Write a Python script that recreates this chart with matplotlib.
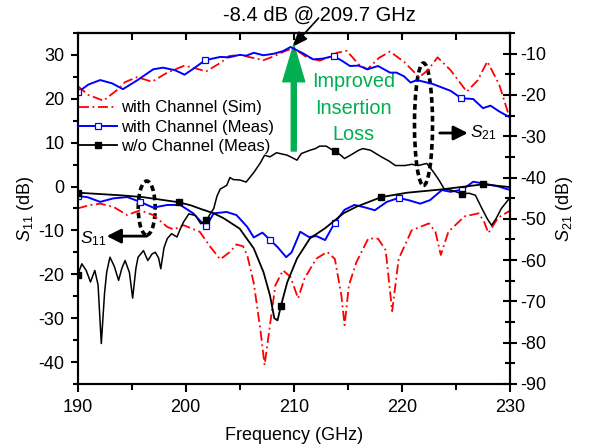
import matplotlib
matplotlib.use("Agg")
import matplotlib.pyplot as plt
from matplotlib.lines import Line2D
from matplotlib.patches import Ellipse
from matplotlib.ticker import MultipleLocator
import numpy as np

plt.rcParams['font.family'] = ['Liberation Sans', 'DejaVu Sans']
plt.rcParams['mathtext.fontset'] = 'custom'
plt.rcParams['mathtext.rm'] = 'Liberation Sans'
plt.rcParams['mathtext.it'] = 'Liberation Sans:italic'
plt.rcParams['axes.unicode_minus'] = False

# --- S21, avec canal (simulation) ---
s21_sim_f = [190.0, 191.0, 192.4, 193.8, 194.4, 195.5, 196.9, 198.3, 199.9, 200.8, 201.9,
             203.3, 204.0, 205.0, 206.0, 207.2, 208.3, 209.0, 209.8, 210.5, 211.2, 212.4,
             213.2, 214.0, 214.9, 216.0, 216.8, 217.9, 218.9, 220.2, 221.6, 222.4, 223.3,
             224.5, 226.0, 227.0, 227.9, 229.0, 229.9]
s21_sim_db = [-17.8, -20.0, -21.4, -18.5, -16.9, -15.7, -16.8, -14.6, -12.9, -13.5, -14.3,
              -12.1, -10.6, -10.3, -10.9, -11.6, -10.5, -9.6, -8.8, -9.6, -10.9, -11.7,
              -10.9, -9.8, -9.3, -12.6, -13.8, -11.0, -9.5, -12.0, -15.7, -14.0, -10.9,
              -14.0, -19.2, -16.5, -11.9, -17.5, -25.0]

# --- S21, avec canal (mesure) ---
s21_meas_f = [190.0, 191.0, 192.1, 193.2, 194.2, 195.5, 197.0, 197.9, 199.0, 199.9, 200.8,
              201.8, 203.2, 204.0, 205.0, 205.6, 206.3, 207.2, 208.2, 209.0, 209.7, 210.3,
              210.9, 211.8, 212.7, 213.7, 214.5, 215.2, 216.0, 216.8, 217.8, 218.9, 219.5,
              220.2, 220.8, 221.4, 222.0, 222.8, 223.5, 224.5, 225.5, 226.6, 227.0, 227.5,
              228.2, 229.0, 229.9]
s21_meas_db = [-19.4, -17.5, -16.4, -17.2, -18.6, -16.5, -13.8, -13.4, -14.0, -15.1, -13.5,
               -11.6, -10.8, -10.9, -10.3, -10.5, -9.8, -10.4, -10.0, -9.4, -8.4, -9.2,
               -10.0, -11.4, -11.2, -10.6, -11.8, -13.0, -12.9, -13.8, -13.0, -14.6, -14.6,
               -15.5, -17.0, -16.4, -16.8, -17.3, -18.0, -19.0, -20.8, -21.0, -22.0, -23.2,
               -22.6, -24.0, -25.3]
s21_meas_mk = [190.0, 201.8, 213.7, 225.5]

# --- S21, sans canal (mesure) ---
s21_wo_f = [190.0, 190.4, 190.8, 191.2, 191.6, 191.9, 192.2, 192.5, 192.7, 193.0, 193.4,
            193.8, 194.1, 194.4, 194.8, 195.1, 195.4, 195.6, 196.1, 196.5, 196.9, 197.2,
            197.5, 197.7, 198.0, 198.3, 198.7, 199.2, 199.5, 199.8, 200.3, 200.9, 201.4,
            201.9, 202.6, 202.9, 203.2, 203.8, 204.1, 204.4, 205.0, 205.6, 206.3, 206.9,
            207.3, 207.8, 208.4, 208.9, 209.4, 210.3, 210.7, 211.5, 212.0, 212.4, 213.0,
            213.8, 214.3, 214.7, 215.5, 216.0, 216.4, 217.1, 217.6, 218.1, 218.8, 219.4,
            220.3, 220.9, 221.5, 222.3, 222.9, 223.4, 223.9, 224.6, 225.6, 226.2, 226.8,
            227.4, 227.9, 228.3, 228.7, 229.2, 229.9]
s21_wo_db = [-63.7, -60.9, -62.5, -65.3, -62.5, -66.0, -80.2, -68.0, -62.9, -59.3, -61.5,
             -64.9, -62.0, -60.1, -63.0, -69.2, -62.0, -59.3, -57.7, -60.1, -58.5, -58.1,
             -59.5, -62.1, -57.0, -54.8, -53.6, -54.4, -52.5, -50.8, -48.8, -49.2, -51.2,
             -50.4, -47.5, -44.5, -42.8, -41.9, -40.0, -40.5, -40.6, -41.1, -38.8, -36.5,
             -34.6, -35.0, -34.0, -34.3, -34.6, -35.8, -34.2, -33.4, -33.0, -32.4, -32.4,
             -33.7, -34.5, -35.4, -34.2, -33.4, -33.0, -33.4, -34.2, -35.0, -36.0, -37.1,
             -37.1, -36.8, -37.1, -36.6, -38.6, -40.5, -42.7, -43.1, -44.0, -43.8, -44.3,
             -47.5, -50.0, -51.6, -50.0, -47.5, -45.2]
s21_wo_mk = [190.0, 201.9, 213.8, 225.6]

# --- S11, avec canal (simulation) ---
s11_sim_f = [190.0, 191.0, 192.1, 193.3, 194.6, 195.8, 197.0, 198.3, 198.9, 199.8, 201.3,
             202.3, 203.2, 204.1, 204.7, 205.3, 205.7, 206.3, 206.9, 207.3, 207.8, 208.3,
             209.0, 209.7, 210.4, 211.0, 212.1, 213.1, 213.8, 214.4, 214.7, 215.1, 215.8,
             216.9, 217.8, 218.5, 219.1, 219.7, 220.9, 222.5, 223.1, 223.6, 224.3, 225.8,
             227.1, 227.6, 228.0, 228.9, 230.0]
s11_sim_db = [-5.0, -4.3, -3.9, -4.6, -6.5, -5.4, -6.5, -9.2, -9.8, -8.8, -10.3,
              -13.8, -16.6, -14.9, -13.2, -13.6, -15.7, -22.0, -32.4, -40.7, -31.6, -22.5,
              -19.1, -20.6, -25.5, -20.9, -16.4, -14.9, -16.5, -24.8, -31.6, -22.5, -17.2,
              -11.8, -11.9, -14.5, -28.4, -16.5, -10.0, -8.4, -10.3, -15.6, -10.3, -6.8,
              -6.1, -8.0, -10.6, -7.1, -5.5]

# --- S11, avec canal (mesure) ---
s11_meas_f = [190.0, 190.9, 192.1, 193.3, 194.6, 195.8, 197.0, 198.3, 199.5, 200.7, 201.3,
              201.9, 202.6, 203.8, 204.7, 205.7, 206.3, 207.1, 207.7, 208.5, 209.3, 209.8,
              210.6, 211.4, 212.1, 212.9, 213.8, 214.7, 215.6, 216.5, 217.5, 218.6, 219.7,
              220.6, 221.7, 222.6, 223.7, 224.5, 225.6, 226.6, 227.5, 228.8, 229.9]
s11_meas_db = [-2.2, -2.4, -3.5, -2.7, -2.4, -3.5, -4.8, -4.2, -4.2, -6.1, -7.7,
               -9.0, -6.1, -5.8, -6.5, -9.2, -11.6, -10.5, -11.9, -13.8, -16.1, -15.0,
               -10.3, -11.5, -11.3, -12.2, -8.2, -5.3, -4.2, -4.7, -5.4, -3.5, -2.6,
               -3.1, -3.9, -3.1, -0.8, -1.2, -0.7, 1.1, 0.7, 0.1, -0.7]
s11_meas_mk = [190.0, 195.8, 201.9, 207.8, 213.8, 219.7, 225.6]

# --- S11, sans canal (mesure) ---
s11_wo_f = [190.0, 192.0, 194.0, 196.0, 198.0, 199.4, 200.5, 201.5, 202.5, 203.5, 205.0,
            206.3, 207.2, 207.8, 208.2, 208.5, 208.8, 209.4, 210.3, 211.5, 212.9, 214.6,
            215.8, 218.1, 220.5, 223.5, 227.5, 229.9]
s11_wo_db = [-1.4, -1.7, -2.0, -2.4, -3.1, -3.6, -4.3, -5.2, -6.0, -7.2, -9.6,
             -14.1, -19.5, -24.8, -30.0, -30.5, -27.3, -21.8, -16.4, -11.8, -9.5, -6.1,
             -4.6, -2.4, -1.4, -0.7, 0.5, -0.1]
s11_wo_mk = [190.0, 199.4, 208.8, 218.1, 227.5]

labels = ['with Channel (Sim)', 'with Channel (Meas)', 'w/o Channel (Meas)']

RED, BLUE, BLACK, GREEN = '#ff0000', '#0000ff', '#000000', '#00b050'
dashdot = (0, (5.5, 2.0, 1.0, 2.0))

fig = plt.figure(figsize=(5.89, 4.48), dpi=100)
ax = fig.add_axes([0.1316, 0.1429, 0.7343, 0.7835])
ax2 = ax.twinx()

# courbes S11 (axe gauche)
ax.plot(s11_sim_f, s11_sim_db, color=RED, ls=dashdot, lw=1.3)
ax.plot(s11_meas_f, s11_meas_db, color=BLUE, lw=1.4)
ax.plot(s11_meas_mk, np.interp(s11_meas_mk, s11_meas_f, s11_meas_db), 's', ls='none',
        ms=4.5, mfc='white', mec=BLUE, mew=0.9)
ax.plot(s11_wo_f, s11_wo_db, color=BLACK, lw=1.3)
ax.plot(s11_wo_mk, np.interp(s11_wo_mk, s11_wo_f, s11_wo_db), 's', ls='none',
        ms=4.5, color=BLACK)

# courbes S21 (axe droit)
ax2.plot(s21_sim_f, s21_sim_db, color=RED, ls=dashdot, lw=1.3)
ax2.plot(s21_meas_f, s21_meas_db, color=BLUE, lw=1.4)
ax2.plot(s21_meas_mk, np.interp(s21_meas_mk, s21_meas_f, s21_meas_db), 's', ls='none',
         ms=4.5, mfc='white', mec=BLUE, mew=0.9)
ax2.plot(s21_wo_f, s21_wo_db, color=BLACK, lw=1.1)
ax2.plot(s21_wo_mk, np.interp(s21_wo_mk, s21_wo_f, s21_wo_db), 's', ls='none',
         ms=4.5, color=BLACK)

ax.set_xlim(190, 230)
ax.set_ylim(-45, 35)
ax2.set_ylim(-90, -5)

ax.xaxis.set_major_locator(MultipleLocator(10))
ax.xaxis.set_minor_locator(MultipleLocator(5))
ax.yaxis.set_major_locator(MultipleLocator(10))
ax.yaxis.set_minor_locator(MultipleLocator(5))
ax2.yaxis.set_major_locator(MultipleLocator(10))
ax2.yaxis.set_minor_locator(MultipleLocator(5))

for a in (ax, ax2):
    for s in a.spines.values():
        s.set_linewidth(1.5)

ax.tick_params(axis='x', which='major', direction='out', length=6, width=1.5, pad=5, labelsize=13)
ax.tick_params(axis='x', which='minor', direction='out', length=4, width=1.5)
ax.tick_params(axis='y', which='major', direction='out', length=5, width=1.5, pad=4.5, labelsize=13)
ax.tick_params(axis='y', which='minor', direction='out', length=3.5, width=1.5)
ax2.tick_params(axis='y', which='major', direction='inout', length=10, width=1.5, pad=2.6, labelsize=13)
ax2.tick_params(axis='y', which='minor', direction='inout', length=7, width=1.5)

top = ax.secondary_xaxis('top')
top.xaxis.set_major_locator(MultipleLocator(5))
top.tick_params(direction='in', length=5, width=1.5, labeltop=False)
top.spines['top'].set_linewidth(1.5)

ax.set_xlabel('Frequency (GHz)', fontsize=13, labelpad=8)
ax.set_ylabel(r'$\mathit{S}_{\mathit{11}}$ (dB)', fontsize=13, labelpad=1.5)
ax2.set_ylabel(r'$\mathit{S}_{\mathit{21}}$ (dB)', fontsize=13, labelpad=5)

handles = [Line2D([], [], color=RED, ls=dashdot, lw=1.3),
           Line2D([], [], color=BLUE, lw=1.4, marker='s', ms=4.5, mfc='white', mec=BLUE, mew=0.9),
           Line2D([], [], color=BLACK, lw=1.3, marker='s', ms=4.5)]
ax2.legend(handles, labels, loc='upper left', bbox_to_anchor=(0.0035, 0.808), frameon=False,
           fontsize=12, handlelength=2.28, handletextpad=0.24, labelspacing=0.26,
           borderaxespad=0, borderpad=0)

# annotations
fig.text(319.7 / 589, 1 - 20.3 / 448, '-8.4 dB @ 209.7 GHz', fontsize=14.5,
         ha='center', va='baseline')
ax.annotate('', xy=(209.85, 31.8), xytext=(212.3, 38.4), annotation_clip=False,
            arrowprops=dict(arrowstyle='-|>,head_length=0.95,head_width=0.36', color=BLACK,
                            lw=1.2, shrinkA=0, shrinkB=0))
ax.annotate('', xy=(210.0, 32.3), xytext=(210.0, 8.1),
            arrowprops=dict(arrowstyle='simple,head_width=1.58,head_length=2.66,tail_width=0.36',
                            color=GREEN, shrinkA=0, shrinkB=0))
ax.text(215.5, 17.9, 'Improved\nInsertion\nLoss', color=GREEN, fontsize=14.3,
        ha='center', va='center', multialignment='center', linespacing=1.47)

ax.add_patch(Ellipse((196.4, -4.9), 1.57, 12.3, fill=False, ec=BLACK, lw=2.6, ls=(0, (1.6, 1.0))))
ax.add_patch(Ellipse((222.0, 14.2), 1.67, 27.9, fill=False, ec=BLACK, lw=2.6, ls=(0, (1.6, 1.0))))

ax.annotate('', xy=(192.7, -11.3), xytext=(196.4, -11.3),
            arrowprops=dict(arrowstyle='-|>,head_length=0.85,head_width=0.43', color=BLACK,
                            lw=2, shrinkA=0, shrinkB=0))
ax.text(190.2, -11.8, r'$\mathit{S}_{\mathit{11}}$', fontsize=12.5, ha='left', va='center')
ax.annotate('', xy=(226.1, 12.2), xytext=(223.5, 12.2),
            arrowprops=dict(arrowstyle='-|>,head_length=0.85,head_width=0.43', color=BLACK,
                            lw=2, shrinkA=0, shrinkB=0))
ax.text(226.3, 12.2, r'$\mathit{S}_{\mathit{21}}$', fontsize=12.5, ha='left', va='center')

fig.savefig('out.png', dpi=100)
